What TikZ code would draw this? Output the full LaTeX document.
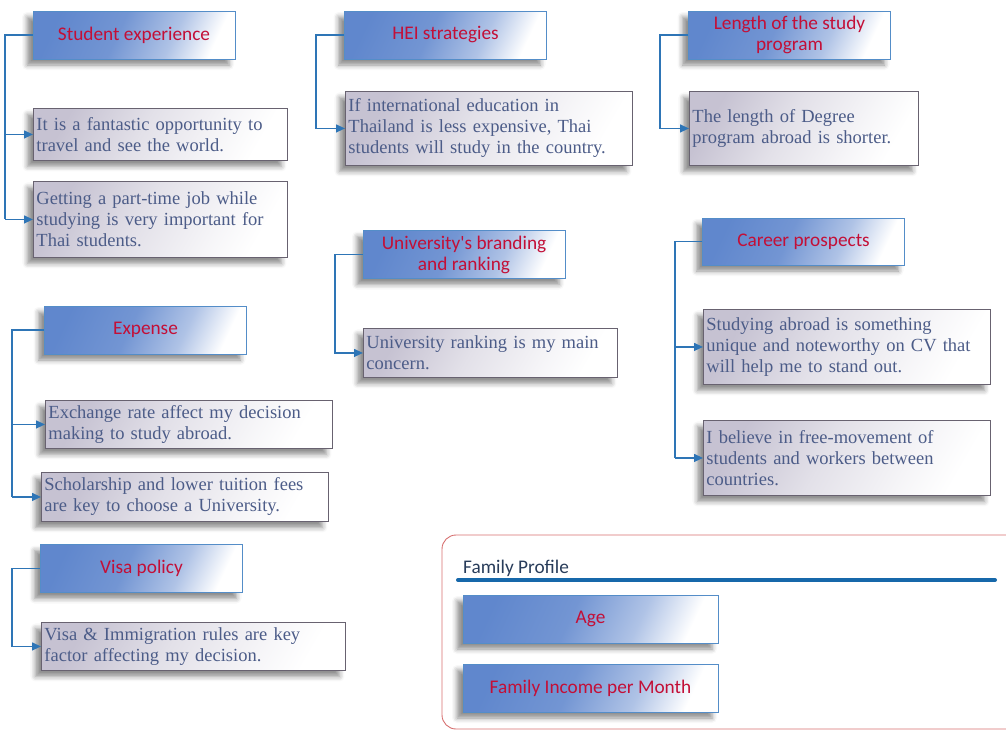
\documentclass[tikz,border=0pt]{standalone}
\usepackage{fontspec}
\setmainfont{Liberation Serif}
\newfontfamily\hdrfont{Carlito}
\usetikzlibrary{arrows.meta,shadows.blur}

\definecolor{hdrblue}{RGB}{96,135,205}
\definecolor{hdredge}{RGB}{84,141,200}
\definecolor{hdrred}{RGB}{195,15,55}
\definecolor{itemgray}{RGB}{198,194,210}
\definecolor{itemedge}{RGB}{104,98,112}
\definecolor{itemtext}{RGB}{76,92,136}
\definecolor{linkblue}{RGB}{46,117,182}
\definecolor{frameRed}{RGB}{214,110,110}
\definecolor{ruleBlue}{RGB}{22,104,170}
\definecolor{labelInk}{RGB}{40,60,90}

% blue heading boxes: solid blue on the left, fading to white at the lower right
\pgfdeclarehorizontalshading{hdrshade}{100bp}{%
  color(0bp)=(hdrblue); color(25bp)=(hdrblue); color(45bp)=(hdrblue!88!white);
  color(62bp)=(hdrblue!50!white); color(75bp)=(white); color(100bp)=(white)}
% grey statement boxes
\pgfdeclarehorizontalshading{itemshade}{100bp}{%
  color(0bp)=(itemgray); color(25bp)=(itemgray); color(45bp)=(itemgray!50!white);
  color(65bp)=(itemgray!15!white); color(75bp)=(white); color(100bp)=(white)}

\tikzset{
  softshadow/.style={blur shadow={shadow xshift=-6pt, shadow yshift=-6pt,
      shadow blur radius=5pt, shadow opacity=45}},
  hdr/.style={draw=hdredge, line width=0.9pt,
      shade, shading=hdrshade, shading angle=-25, softshadow,
      minimum width=202pt, minimum height=48pt, inner sep=2pt,
      align=center, text=hdrred,
      font=\hdrfont\fontsize{19.3}{21}\selectfont},
  item/.style={draw=itemedge, line width=0.9pt,
      shade, shading=itemshade, shading angle=-30, softshadow,
      anchor=north west, inner xsep=3pt, inner ysep=1pt,
      align=left, text=itemtext,
      font=\fontsize{18.5}{21}\selectfont},
  conn/.style={draw=linkblue, line width=1.3pt,
      -{Triangle[length=9pt,width=8pt]}},
  trunk/.style={draw=linkblue, line width=1.3pt}
}

\begin{document}
\begin{tikzpicture}[x=1pt,y=-1pt]
\useasboundingbox (0,0) rectangle (1006,731);
\clip (0,0) rectangle (1006,731);

% ---- Student experience ----
\node[hdr] (se) at (134,35) {Student experience};
\node[item, minimum width=254pt, text width=248pt, minimum height=52pt] (se1) at (33,108)
  {It is a fantastic opportunity to\\travel and see the world.};
\node[item, minimum width=254pt, text width=248pt, minimum height=76pt] (se2) at (33,181)
  {Getting a part-time job while\\studying is very important for\\Thai students.};
\coordinate (seX) at (5,0);
\draw[trunk] (se.west) -- (se.west -| seX) -- (se2.west -| seX);
\draw[conn] (se1.west -| seX) -- (se1.west);
\draw[conn] (se2.west -| seX) -- (se2.west);

% ---- HEI strategies ----
\node[hdr] (hei) at (445.5,35) {HEI strategies};
\node[item, minimum width=287pt, text width=281pt, minimum height=74pt] (hei1) at (345,91)
  {If international education in\\Thailand is less expensive, Thai\\students will study in the country.};
\coordinate (heiX) at (316,0);
\draw[conn] (hei.west) -- (hei.west -| heiX) |- (hei1.west);

% ---- Length of the study program ----
\node[hdr] (len) at (789.5,35) {Length of the study\\program};
\node[item, minimum width=229pt, text width=223pt, minimum height=74pt] (len1) at (689,91)
  {The length of Degree\\program abroad is shorter.};
\coordinate (lenX) at (660,0);
\draw[conn] (len.west) -- (len.west -| lenX) |- (len1.west);

% ---- University's branding and ranking ----
\node[hdr] (uni) at (464,254.5) {University's branding\\and ranking};
\node[item, minimum width=254pt, text width=248pt, minimum height=49pt] (uni1) at (363,328)
  {University ranking is my main\\concern.};
\coordinate (uniX) at (335,0);
\draw[conn] (uni.west) -- (uni.west -| uniX) |- (uni1.west);

% ---- Career prospects ----
\node[hdr, minimum height=47pt] (car) at (803.5,241.5) {Career prospects};
\node[item, minimum width=287pt, text width=281pt, minimum height=75pt] (car1) at (703,309)
  {Studying abroad is something\\unique and noteworthy on CV that\\will help me to stand out.};
\node[item, minimum width=287pt, text width=281pt, minimum height=75pt] (car2) at (703,420)
  {I believe in free-movement of\\students and workers between\\countries.};
\coordinate (carX) at (675,0);
\draw[trunk] (car.west) -- (car.west -| carX) -- (car2.west -| carX);
\draw[conn] (car1.west -| carX) -- (car1.west);
\draw[conn] (car2.west -| carX) -- (car2.west);

% ---- Expense ----
\node[hdr] (exp) at (145.5,330) {Expense};
\node[item, minimum width=287pt, text width=281pt, minimum height=48pt] (exp1) at (45,400)
  {Exchange rate affect my decision\\making to study abroad.};
\node[item, minimum width=287pt, text width=281pt, minimum height=49pt] (exp2) at (41,472)
  {Scholarship and lower tuition fees\\are key to choose a University.};
\coordinate (expX) at (12,0);
\draw[trunk] (exp.west) -- (exp.west -| expX) -- (exp2.west -| expX);
\draw[conn] (exp1.west -| expX) -- (exp1.west);
\draw[conn] (exp2.west -| expX) -- (exp2.west);

% ---- Visa policy ----
\node[hdr] (vis) at (141.5,568.5) {Visa policy};
\node[item, minimum width=304pt, text width=298pt, minimum height=48pt] (vis1) at (41,622)
  {Visa \& Immigration rules are key\\factor affecting my decision.};
\coordinate (visX) at (12,0);
\draw[conn] (vis.west) -- (vis.west -| visX) |- (vis1.west);

% ---- Family profile panel ----
\draw[frameRed, line width=0.9pt, rounded corners=14pt] (442,535) rectangle (1040,729);
\node[anchor=base west, inner sep=0pt, text=labelInk,
      font=\hdrfont\fontsize{19.3}{21}\selectfont] (fam) at (463,573) {Family Profile};
\draw[ruleBlue, line width=4pt, line cap=round] (458,580) -- (995,580);
\node[hdr, minimum width=255pt] (age) at (590.5,619) {Age};
\node[hdr, minimum width=255pt] (inc) at (590.5,688) {Family Income per Month};
\end{tikzpicture}
\end{document}
